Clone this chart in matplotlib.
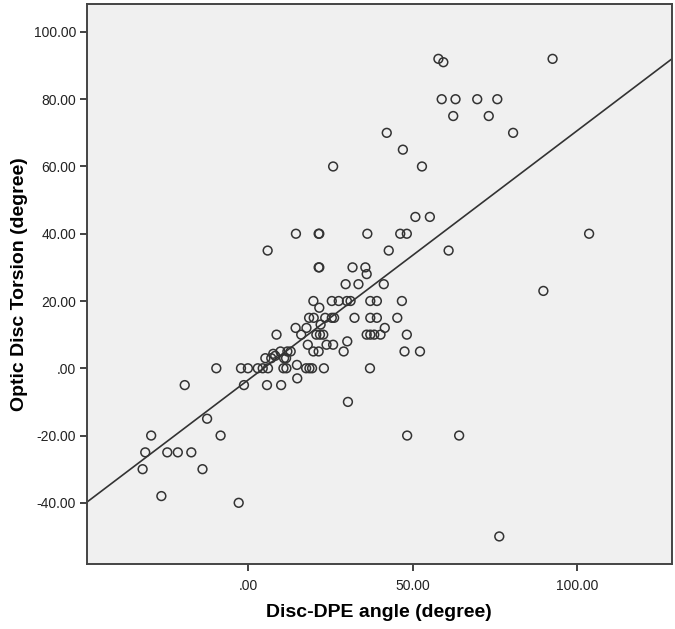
import matplotlib
matplotlib.use("Agg")
import matplotlib.pyplot as plt
from matplotlib.ticker import FuncFormatter
import numpy as np

plt.rcParams['font.family'] = ['Liberation Sans', 'DejaVu Sans']

# Disc-DPE angle (degree)
disc_dpe = [57.8, 59.3, 92.5, 58.8, 63.0, 69.6, 75.7, 62.3, 73.1, 80.5,
            42.1, 47.0, 25.8, 52.8, 50.8, 55.2, 14.5, 21.4, 21.6, 36.2,
            46.2, 48.2, 103.6, 5.9, 42.7, 60.9, 21.4, 21.6, 31.7, 35.6,
            36.0, 29.6, 33.5, 41.2, 89.7,
            19.8, 25.4, 27.5, 30.0, 31.1, 37.1, 39.1, 46.7, 21.6,
            18.5, 19.9, 23.4, 25.4, 26.1, 32.3, 37.1, 39.1, 45.3, 22.0,
            14.4, 17.7, 41.5,
            8.6, 16.1, 20.7, 21.8, 22.8, 36.0, 37.1, 38.3, 40.2, 48.2,
            30.1, 18.1, 23.8, 25.8,
            9.8, 11.9, 12.9, 19.8, 21.4, 29.0, 47.5, 52.2, 5.2, 7.0,
            8.2, 7.6, 10.9, 11.5, 14.8,
            -9.7, -2.2, -0.1, 2.9, 4.4, 6.0, 10.7, 11.6, 17.6, 18.6,
            19.4, 23.0, 37.0, 14.9, -19.3, -1.3, 5.7, 10.0, 30.3, -12.5,
            -29.5, -8.4, 48.3, 64.1, -31.3, -24.6, -21.4, -17.3, -32.1, -13.9,
            -26.4, -2.9, 76.3]

# Optic Disc Torsion (degree)
torsion = [92, 91, 92, 80, 80, 80, 80, 75, 75, 70,
           70, 65, 60, 60, 45, 45, 40, 40, 40, 40,
           40, 40, 40, 35, 35, 35, 30, 30, 30, 30,
           28, 25, 25, 25, 23,
           20, 20, 20, 20, 20, 20, 20, 20, 18,
           15, 15, 15, 15, 15, 15, 15, 15, 15, 13,
           12, 12, 12,
           10, 10, 10, 10, 10, 10, 10, 10, 10, 10,
           8, 7, 7, 7,
           5, 5, 5, 5, 5, 5, 5, 5, 3, 3,
           3.7, 4.3, 3, 3, 1,
           0, 0, 0, 0, 0, 0, 0, 0, 0, 0,
           0, 0, 0, -3, -5, -5, -5, -5, -10, -15,
           -20, -20, -20, -20, -25, -25, -25, -25, -30, -30,
           -38, -40, -50]

x_ticks = [0, 50, 100]
y_ticks = [-40, -20, 0, 20, 40, 60, 80, 100]

x = np.array(disc_dpe)
y = np.array(torsion)

fig = plt.figure(figsize=(6.75, 6.29), dpi=100)
ax = fig.add_axes([0.1289, 0.1033, 0.9951 - 0.1289, 0.9936 - 0.1033])
ax.set_facecolor('#f0f0f0')

ax.scatter(x, y, s=40, facecolors='none', edgecolors='#333333', linewidths=1.1, zorder=3)

xmin, xmax = -49.0, 128.7
ymin, ymax = -58.2, 108.3

slope, intercept = np.polyfit(x, y, 1)
xl = np.array([xmin, xmax])
ax.plot(xl, intercept + slope * xl, color='#333333', lw=1.2, zorder=2)

ax.set_xlim(xmin, xmax)
ax.set_ylim(ymin, ymax)
ax.set_xticks(x_ticks)
ax.set_yticks(y_ticks)

def fmt(v, pos):
    s = f"{v:.2f}"
    if s in ("0.00", "-0.00"):
        return ".00"
    return s

ax.xaxis.set_major_formatter(FuncFormatter(fmt))
ax.yaxis.set_major_formatter(FuncFormatter(fmt))
ax.tick_params(direction='out', length=5, width=1.2, colors='#222222', labelsize=10, pad=3)
ax.tick_params(axis='x', pad=6)

for sp in ax.spines.values():
    sp.set_color('#444444')
    sp.set_linewidth(1.4)

ax.set_xlabel('Disc-DPE angle (degree)', fontsize=14, fontweight='bold', labelpad=8)
ax.set_ylabel('Optic Disc Torsion (degree)', fontsize=14, fontweight='bold', labelpad=4)

fig.savefig('out.png', dpi=100)
